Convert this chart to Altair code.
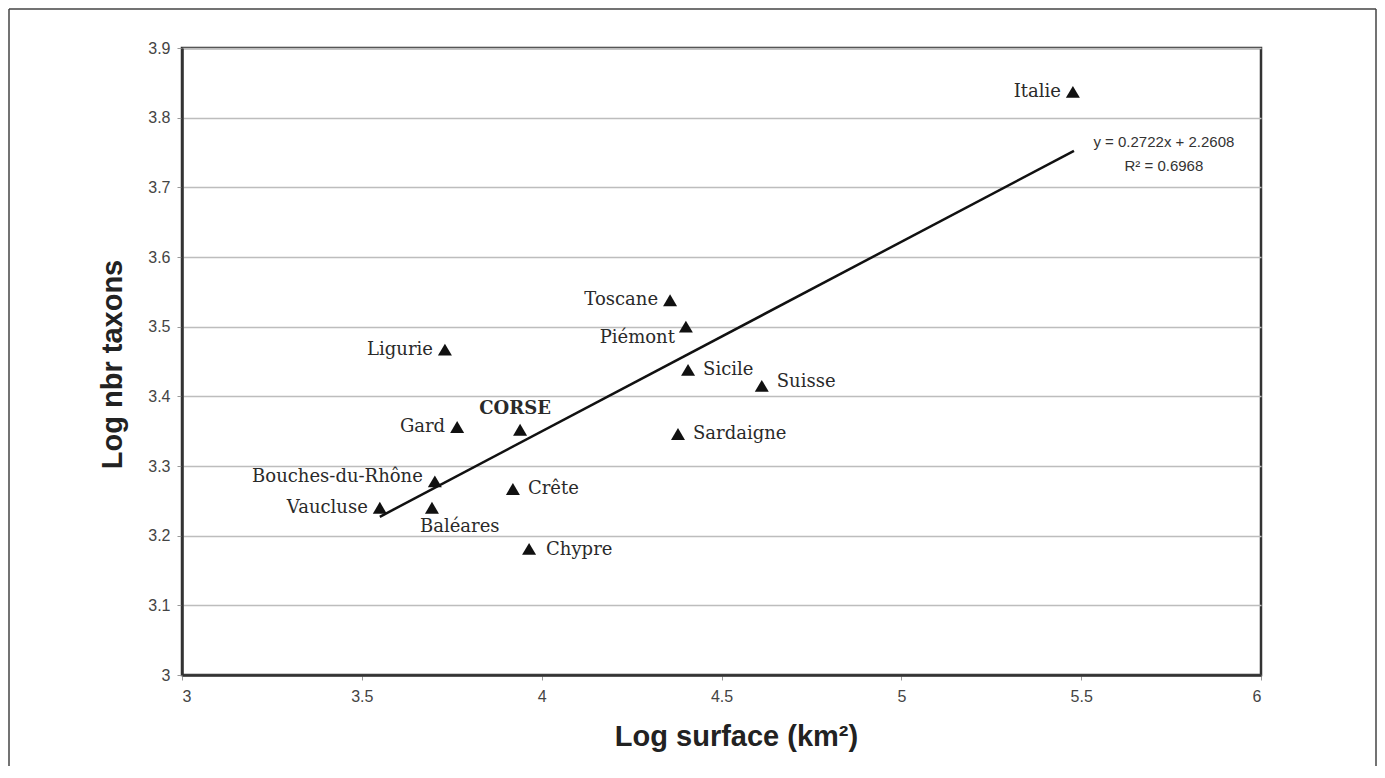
import altair as alt
import pandas as pd

# ---- data ----
names = ["Italie", "Toscane", "Piémont", "Ligurie", "Sicile", "Suisse", "CORSE",
         "Gard", "Sardaigne", "Bouches-du-Rhône", "Crête", "Vaucluse", "Baléares", "Chypre"]
log_surface = [5.477, 4.357, 4.401, 3.731, 4.407, 4.612, 3.940,
               3.765, 4.379, 3.703, 3.920, 3.550, 3.695, 3.965]
log_taxa = [3.837, 3.538, 3.500, 3.467, 3.438, 3.415, 3.352,
            3.356, 3.346, 3.278, 3.267, 3.240, 3.240, 3.181]

slope = 0.2722
intercept = 2.2608
fit_x = [3.55, 5.48]
eq_lines = ["y = 0.2722x + 2.2608", "R² = 0.6968"]
eq_x = [5.73, 5.73]
eq_y = [3.765, 3.730]

x_ticks = [3, 3.5, 4, 4.5, 5, 5.5, 6]
y_ticks = [3, 3.1, 3.2, 3.3, 3.4, 3.5, 3.6, 3.7, 3.8, 3.9]

df = pd.DataFrame({"name": names, "surface": log_surface, "taxa": log_taxa})
fit_df = pd.DataFrame({"surface": fit_x})
eq_df = pd.DataFrame({"text": eq_lines, "surface": eq_x, "taxa": eq_y})

W, H = 1079, 627

xscale = alt.Scale(domain=[3, 6], nice=False, zero=False)
yscale = alt.Scale(domain=[3, 3.9], nice=False, zero=False)

xaxis = alt.Axis(values=x_ticks, format="~g", title="Log surface (km²)", grid=False,
                 labelFont="Arial", labelFontSize=16, labelColor="#444", labelPadding=8,
                 titleX=554, titleY=70, titleAlign="center", titleBaseline="alphabetic")
yaxis = alt.Axis(values=y_ticks, format="~g", title="Log nbr taxons", grid=True,
                 labelFont="Arial", labelFontSize=16, labelColor="#444", labelPadding=7,
                 titleX=-61, titleY=316, titleAngle=270, titleAlign="center",
                 titleBaseline="alphabetic")

X = alt.X("surface:Q", scale=xscale, axis=xaxis)
Y = alt.Y("taxa:Q", scale=yscale, axis=yaxis)
Xn = alt.X("surface:Q", scale=xscale)
Yn = alt.Y("taxa:Q", scale=yscale)

base = alt.Chart(df)

points = base.mark_point(
    shape="M0,-0.85L1,0.85L-1,0.85Z", size=196, filled=True, color="#111", opacity=1
).encode(x=X, y=Y)

fit = alt.Chart(fit_df).transform_calculate(
    taxa=f"{slope} * datum.surface + {intercept}"
).mark_line(color="#111", strokeWidth=2.5).encode(x=Xn, y=Yn)


def labels(subset, align, dx, dy, bold=False):
    return base.transform_filter(
        alt.FieldOneOfPredicate(field="name", oneOf=subset)
    ).mark_text(
        align=align, baseline="middle", dx=dx, dy=dy,
        font="DejaVu Serif", fontSize=18, color="#2a2a2a",
        fontWeight="bold" if bold else "normal"
    ).encode(x=Xn, y=Yn, text="name:N")


lab_layers = [
    labels(["Italie", "Toscane", "Ligurie", "Gard", "Vaucluse"], "right", -12, 0),
    labels(["Bouches-du-Rhône"], "right", -12, -4),
    labels(["Piémont"], "right", -11, 11),
    labels(["Sicile", "Sardaigne", "Crête"], "left", 15, 0),
    labels(["Suisse"], "left", 15, -4),
    labels(["Chypre"], "left", 17, 1),
    labels(["Baléares"], "left", -12, 19),
    labels(["CORSE"], "center", -5, -21, bold=True),
]

eq = alt.Chart(eq_df).mark_text(
    align="center", baseline="middle", font="Arial", fontSize=15, color="#333"
).encode(x=Xn, y=Yn, text="text:N")

# outer frame around the whole figure
one = alt.Data(values=[{"k": 1}])
frame_color = "#444"
left_edge = alt.Chart(one).mark_rule(color=frame_color, strokeWidth=1.5).encode(
    x=alt.value(-173), y=alt.value(-39), y2=alt.value(720))
right_edge = alt.Chart(one).mark_rule(color=frame_color, strokeWidth=1.5).encode(
    x=alt.value(1194), y=alt.value(-39), y2=alt.value(720))
top_edge = alt.Chart(one).mark_rule(color=frame_color, strokeWidth=1.5).encode(
    x=alt.value(-173), x2=alt.value(1194), y=alt.value(-39))

chart = alt.layer(
    points, fit, *lab_layers, eq, left_edge, right_edge, top_edge
).properties(
    width=W, height=H,
    autosize=alt.AutoSizeParams(type="none"),
    padding={"left": 174, "top": 40, "right": 116, "bottom": 91},
    background="white",
).configure_view(
    stroke="#333", strokeWidth=2.5
).configure_axis(
    titleFont="Arial", titleFontSize=29, titleFontWeight="bold", titleColor="#222",
    domainColor="#333", domainWidth=2.5,
    tickColor="#999", tickSize=5, tickWidth=1,
    gridColor="#bdbdbd", gridWidth=1.5,
)

chart.save("out.html", embed_options={"renderer": "svg", "actions": False})
